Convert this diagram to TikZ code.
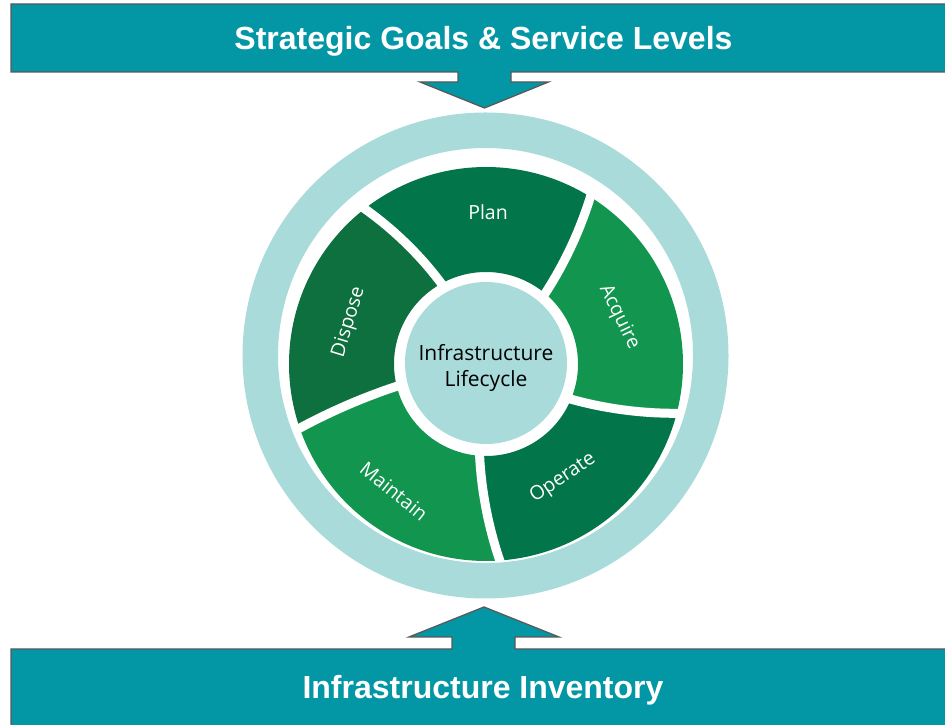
\documentclass[tikz,border=0pt]{standalone}
\usepackage{fontspec}
\setmainfont{Open Sans}
\newfontfamily\bannerfont{Liberation Sans}
\definecolor{ringc}{HTML}{A9DBDA}
\definecolor{darkg}{HTML}{03754A}
\definecolor{dispg}{HTML}{0D703E}
\definecolor{lightg}{HTML}{12954F}
\definecolor{bannerc}{HTML}{0397A6}
\definecolor{bord}{HTML}{595959}
\newcommand\wheelseg[5]{%
  \fill[#1] (#2:92) -- plot[domain=0:1,samples=14] ({#2+((#3)-(#2))*\x}:{92+105*\x})
    arc[start angle=#3,end angle=#5,radius=197]
    -- plot[domain=1:0,samples=14] ({#4+((#5)-(#4))*\x}:{92+105*\x})
    arc[start angle=#4,end angle=#2,radius=92] -- cycle;}
\tikzset{
  banner/.style={fill=bannerc,draw=bord,line width=1.3pt,line join=miter},
  bannertext/.style={text=white,font=\bannerfont\bfseries\fontsize{32}{38}\selectfont,anchor=base,inner sep=0pt},
  seglabel/.style={text=white,font=\fontsize{19.5}{23}\selectfont,inner sep=0pt},
  gapline/.style={white,line width=9pt}
}
\begin{document}
\begin{tikzpicture}[x=1pt,y=1pt]
\useasboundingbox (0,0) rectangle (945,725);
% wheel segments
\begin{scope}[shift={(486,361)}]
  \wheelseg{darkg}{-94}{-86}{-22.5}{-14.5}
  \wheelseg{lightg}{-22.5}{-14.5}{50}{58}
  \wheelseg{darkg}{50}{58}{119}{128}
  \wheelseg{dispg}{119}{128}{194}{199}
  \wheelseg{lightg}{-166}{-161}{-94}{-86}
  \foreach \a/\b in {-94/-86,-22.5/-14.5,50/58,119/128,-166/-161}
    \draw[gapline] plot[domain=-0.1:1.03,samples=16] ({\a+((\b)-(\a))*\x}:{92+105*\x});
\end{scope}
% outer ring
\fill[ringc,even odd rule] (485.5,369.5) circle[radius=243] (485.5,369.5) circle[radius=207.5];
% centre disc
\fill[ringc] (486,362) circle[radius=81];
\node[align=center,font=\fontsize{21}{25.7}\selectfont,inner sep=0pt] (centre) at (486,357) {Infrastructure\\Lifecycle};
% segment labels
\node[seglabel] (plan) at (488,513) {Plan};
\node[seglabel,rotate=-64] (acquire) at (619,408) {Acquire};
\node[seglabel,rotate=34] (operate) at (563,247) {Operate};
\node[seglabel,rotate=-39] (maintain) at (394,234) {Maintain};
\node[seglabel,rotate=73] (dispose) at (349,403) {Dispose};
% banners with arrows
\path[banner] (11,721) -- (960,721) -- (960,653) -- (511,653) -- (511,643) -- (548.5,643)
  -- (484.5,617) -- (420,643) -- (458,643) -- (458,653) -- (11,653) -- cycle;
\path[banner] (11,-10) -- (11,76) -- (452,76) -- (452,88) -- (409,88) -- (484,118)
  -- (559,88) -- (515,88) -- (515,76) -- (960,76) -- (960,-10) -- cycle;
\node[bannertext] (goals) at (483.5,675) {Strategic Goals \& Service Levels};
\node[bannertext] (inventory) at (483,26) {Infrastructure Inventory};
\end{tikzpicture}
\end{document}
